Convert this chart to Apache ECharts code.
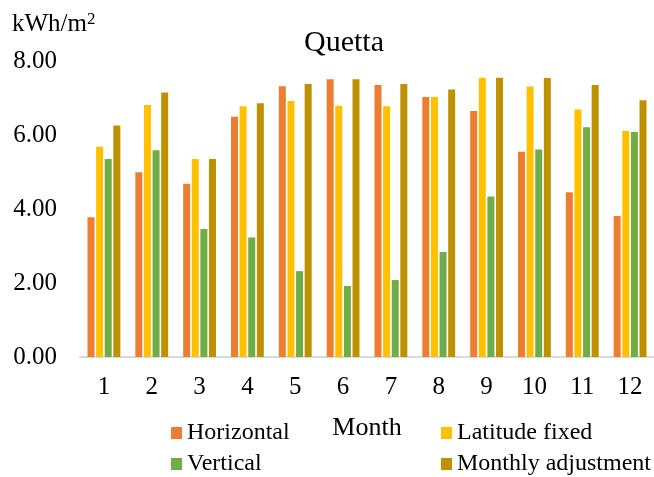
<!DOCTYPE html>
<html>
<head>
<meta charset="utf-8">
<script src="https://cdn.jsdelivr.net/npm/echarts@6/dist/echarts.min.js"></script>
<style>
  html, body { margin: 0; padding: 0; background: #fff; }
  #chart { width: 654px; height: 477px; }
</style>
</head>
<body>
<div id="chart"></div>
<script>
// monthly values (kWh/m2)
var months = ['1', '2', '3', '4', '5', '6', '7', '8', '9', '10', '11', '12']
var horizontal = [3.78, 4.99, 4.68, 6.49, 7.32, 7.51, 7.35, 7.03, 6.65, 5.55, 4.45, 3.81]
var latitudeFixed = [5.68, 6.81, 5.35, 6.78, 6.92, 6.79, 6.78, 7.03, 7.55, 7.31, 6.69, 6.11]
var vertical = [5.35, 5.59, 3.46, 3.23, 2.32, 1.92, 2.08, 2.84, 4.34, 5.61, 6.21, 6.08]
var monthlyAdj = [6.26, 7.15, 5.35, 6.86, 7.38, 7.51, 7.38, 7.23, 7.55, 7.54, 7.35, 6.94]
var yTicks = [0, 2, 4, 6, 8]

var font = 'Liberation Serif'
var chart = echarts.init(document.getElementById('chart'))

function bar(name, data, color) {
  return {
    name: name,
    type: 'bar',
    data: data,
    barWidth: 7,
    barGap: '23%',
    itemStyle: { color: color },
    emphasis: { disabled: true }
  }
}

function legend(left, names) {
  return {
    left: left,
    top: 421,
    height: 80,
    padding: 0,
    orient: 'vertical',
    itemWidth: 11,
    itemHeight: 12,
    itemGap: 7,
    icon: 'rect',
    data: names,
    textStyle: { fontFamily: font, fontSize: 24, color: '#000' }
  }
}

chart.setOption({
  animation: false,
  textStyle: { fontFamily: font, color: '#000' },
  title: [
    {
      text: 'Quetta',
      left: 344,
      top: 28,
      padding: 0,
      textAlign: 'center',
      textStyle: { fontFamily: font, fontSize: 30, fontWeight: 'normal', color: '#000' }
    },
    {
      text: 'kWh/m{sup|2}',
      left: 12,
      top: 11,
      padding: 0,
      textStyle: {
        fontFamily: font, fontSize: 25, fontWeight: 'normal', color: '#000',
        rich: { sup: { fontFamily: font, fontSize: 17, verticalAlign: 'top', padding: [0, 0, 10, 0], color: '#000' } }
      }
    }
  ],
  legend: [
    legend(171, ['Horizontal', 'Vertical']),
    legend(441, ['Latitude fixed', 'Monthly adjustment'])
  ],
  grid: { left: 80, right: -1, top: 61, height: 296 },
  xAxis: {
    type: 'category',
    data: months,
    name: 'Month',
    nameLocation: 'middle',
    nameGap: 58,
    nameTextStyle: { fontFamily: font, fontSize: 26, color: '#000' },
    axisLine: { lineStyle: { color: '#d9d9d9', width: 2 } },
    axisTick: { show: false },
    axisLabel: { fontFamily: font, fontSize: 25, color: '#000', margin: 18 }
  },
  yAxis: {
    type: 'value',
    min: yTicks[0],
    max: yTicks[yTicks.length - 1],
    interval: 2,
    axisLine: { show: false },
    axisTick: { show: false },
    splitLine: { show: false },
    axisLabel: {
      fontFamily: font, fontSize: 25, color: '#000', margin: 23,
      formatter: function (v) { return v.toFixed(2) }
    }
  },
  series: [
    bar('Horizontal', horizontal, '#ED7D31'),
    bar('Latitude fixed', latitudeFixed, '#FFC000'),
    bar('Vertical', vertical, '#70AD47'),
    bar('Monthly adjustment', monthlyAdj, '#BF9000')
  ]
})
</script>
</body>
</html>
